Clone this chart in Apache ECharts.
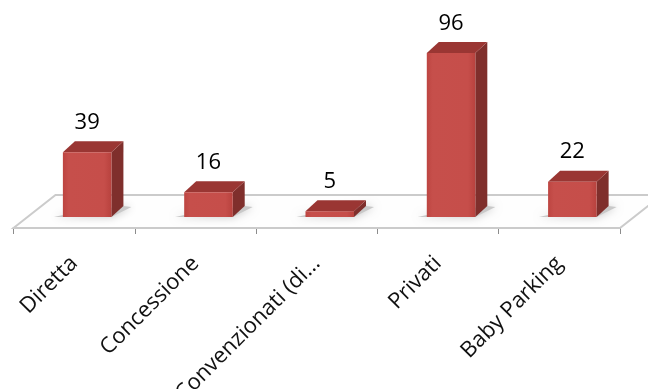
<!DOCTYPE html>
<html>
<head>
<meta charset="utf-8">
<style>
  html, body { margin: 0; padding: 0; background: #fff; }
  #chart { width: 648px; height: 389px; filter: blur(0.5px); }
</style>
<script src="https://cdn.jsdelivr.net/npm/echarts@6/dist/echarts.min.js"></script>
</head>
<body>
<div id="chart"></div>
<script>
const categories = ["Diretta", "Concessione", "Convenzionati (di...", "Privati", "Baby Parking"];
const values = [39, 16, 5, 96, 22];

const depthX = 12;
const depthY = 11;

function poly(points, fill, extra) {
  return Object.assign({
    type: "polygon",
    shape: { points: points },
    style: { fill: fill }
  }, extra || {});
}

// the floor under the bars
function renderFloor(params, api) {
  const band = api.size([1, 0])[0];
  const base = api.coord([0, api.value(1)]);
  const left = base[0] - band / 2;
  const right = api.coord([categories.length - 1, api.value(1)])[0] + band / 2;
  const front = base[1] + 11;
  const back = base[1] - 22;
  return {
    type: "group",
    children: [
      poly([[left, front], [left + 42, back], [right + 42, back], [right, front]], "#fff", {
        style: { fill: "#fefefe", stroke: "#cbcbcb", lineWidth: 2 }
      })
    ]
  };
}

// one 3D bar, front + top + side faces
function renderBar(params, api) {
  const band = api.size([1, 0])[0];
  const top = api.coord([api.value(0), api.value(1)]);
  const base = api.coord([api.value(0), yMin]);
  const w = band * 0.4;
  const x0 = top[0] + 13 - w / 2;
  const x1 = x0 + w;
  const y0 = top[1];
  const y1 = base[1];
  const gradient = new echarts.graphic.LinearGradient(0, 0, 1, 0, [
    { offset: 0, color: "#bd4541" },
    { offset: 0.12, color: "#c64f4b" },
    { offset: 0.85, color: "#c64e4a" },
    { offset: 1, color: "#b8423e" }
  ]);
  return {
    type: "group",
    children: [
      poly([[x0 - 9, y1], [x1, y1], [x1 + depthX + 8, y1 - depthY + 1], [x1 + depthX, y1 - depthY], [x0, y1 - 2]], "#ccc", {
        style: { fill: "#c9c9c9", shadowBlur: 8, shadowColor: "#c4c4c4" }
      }),
      poly([[x1, y0], [x1 + depthX, y0 - depthY], [x1 + depthX, y1 - depthY], [x1, y1]], "#7f2f2c"),
      poly([[x0, y0], [x0 + depthX, y0 - depthY], [x1 + depthX, y0 - depthY], [x1, y0]], "#9a3633"),
      { type: "rect", shape: { x: x0, y: y0, width: w, height: y1 - y0 }, style: { fill: gradient } },
      {
        type: "text",
        style: {
          x: (x0 + x1) / 2,
          y: y0 - 29.5,
          text: String(api.value(1)),
          fill: "#000",
          font: '22px "Open Sans"',
          align: "center",
          verticalAlign: "middle"
        }
      }
    ]
  };
}

const yMin = 1.7;
const chart = echarts.init(document.getElementById("chart"), null, { renderer: "canvas" });
chart.setOption({
  animation: false,
  backgroundColor: "#fff",
  grid: { left: 13.5, right: 28, top: 53, bottom: 172, outerBoundsMode: "none" },
  xAxis: {
    type: "category",
    data: categories,
    offset: 11,
    axisLine: { lineStyle: { color: "#c4c4c4", width: 2 } },
    axisTick: { show: true, alignWithLabel: false, length: 6, lineStyle: { color: "#8c8c8c", width: 1 } },
    axisLabel: {
      interval: 0,
      rotate: 45,
      margin: 32,
      color: "#111",
      fontFamily: "Open Sans",
      fontSize: 22
    }
  },
  yAxis: { type: "value", min: yMin, max: 96, show: false, splitLine: { show: false } },
  series: [
    { type: "custom", renderItem: renderFloor, data: [[0, yMin]], encode: { x: 0, y: 1 }, z: 1, silent: true },
    { type: "custom", renderItem: renderBar, data: values.map((v, i) => [i, v]), encode: { x: 0, y: 1 }, z: 2 }
  ]
});
</script>
</body>
</html>
